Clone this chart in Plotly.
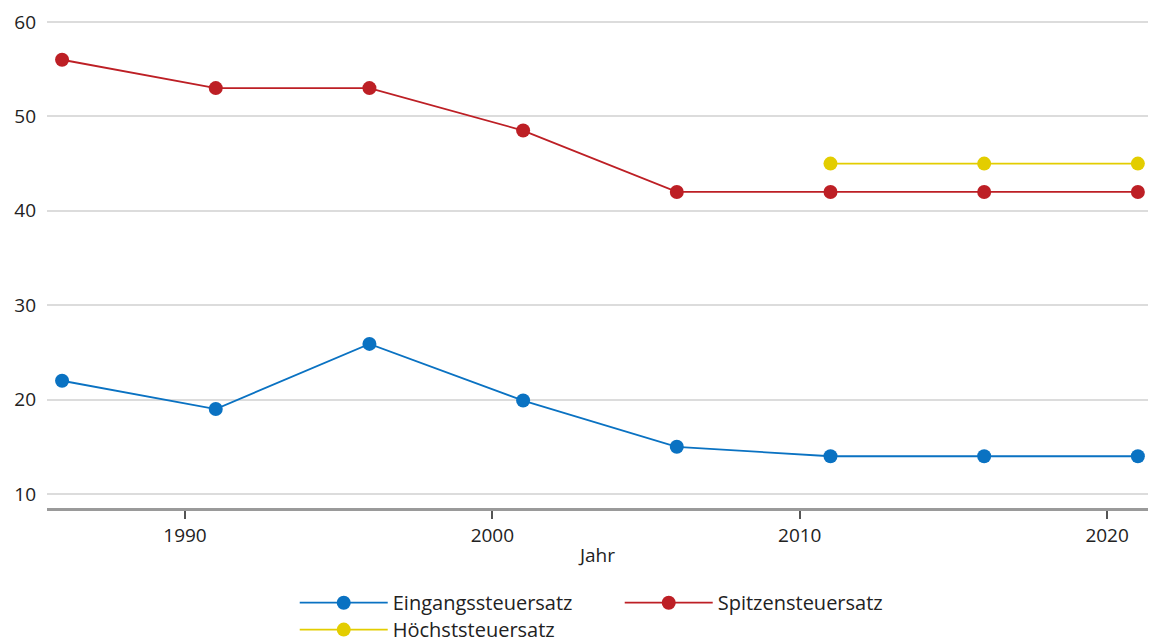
import plotly.graph_objects as go

# Einkommensteuer: Eingangs-, Spitzen- und Höchststeuersatz (in %)
jahre = [1986, 1991, 1996, 2001, 2006, 2011, 2016, 2021]
eingangssteuersatz = [22, 19, 25.9, 19.9, 15, 14, 14, 14]
spitzensteuersatz = [56, 53, 53, 48.5, 42, 42, 42, 42]
jahre_hoechst = [2011, 2016, 2021]
hoechststeuersatz = [45, 45, 45]

x_ticks = [1990, 2000, 2010, 2020]
y_ticks = [10, 20, 30, 40, 50, 60]

FONT = "Open Sans"
TEXT = "#222222"

fig = go.Figure()

fig.add_trace(go.Scatter(
    x=jahre, y=eingangssteuersatz, name="Eingangssteuersatz",
    mode="lines+markers",
    line=dict(color="#0a72c2", width=1.8),
    marker=dict(color="#0a72c2", size=14),
    legend="legend",
))
fig.add_trace(go.Scatter(
    x=jahre, y=spitzensteuersatz, name="Spitzensteuersatz",
    mode="lines+markers",
    line=dict(color="#bd1f25", width=1.8),
    marker=dict(color="#bd1f25", size=14),
    legend="legend",
))
fig.add_trace(go.Scatter(
    x=jahre_hoechst, y=hoechststeuersatz, name="Höchststeuersatz",
    mode="lines+markers",
    line=dict(color="#e3cd00", width=1.8),
    marker=dict(color="#e3cd00", size=14),
    legend="legend2",
))

legend_common = dict(
    orientation="h",
    xanchor="left",
    yanchor="top",
    font=dict(family=FONT, size=20, color=TEXT),
    itemwidth=88,
    entrywidth=222,
    bgcolor="rgba(0,0,0,0)",
    tracegroupgap=0,
)

fig.update_layout(
    width=1149,
    height=644,
    margin=dict(l=47, r=1, t=0, b=136, autoexpand=False),
    paper_bgcolor="white",
    plot_bgcolor="white",
    font=dict(family=FONT, size=19, color=TEXT),
    xaxis=dict(
        range=[1985.51, 2021.33],
        tickvals=x_ticks,
        ticktext=[str(v) for v in x_ticks],
        showgrid=False,
        zeroline=False,
        showline=True,
        linecolor="#9a9a9a",
        linewidth=3,
        ticks="outside",
        ticklen=8,
        tickwidth=1.5,
        tickcolor="#555555",
        tickfont=dict(family=FONT, size=19, color=TEXT),
        title=dict(text="Jahr", font=dict(family=FONT, size=19, color=TEXT), standoff=2),
    ),
    yaxis=dict(
        range=[8.52, 62.33],
        tickvals=y_ticks,
        ticktext=[str(v) for v in y_ticks],
        showgrid=True,
        gridcolor="#dcdcdc",
        gridwidth=2,
        zeroline=False,
        showline=False,
        ticks="",
        ticklabelstandoff=10,
        tickfont=dict(family=FONT, size=19, color=TEXT),
    ),
    legend=dict(x=0.225, y=-0.148, **legend_common),
    legend2=dict(x=0.225, y=-0.201, **legend_common),
    showlegend=True,
)

fig.write_html("out.html")
